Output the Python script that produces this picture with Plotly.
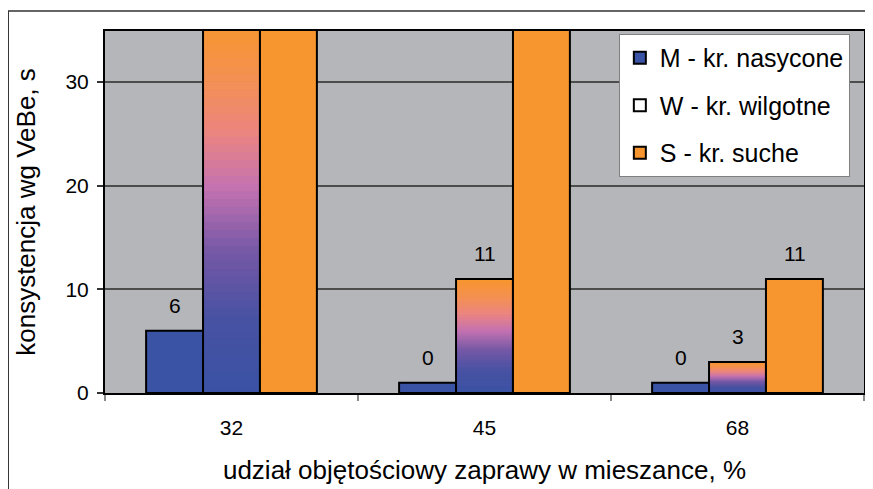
import plotly.graph_objects as go
from plotly.colors import sample_colorscale

# data
categories = ["32", "45", "68"]
m_values = [6, 1, 1]
m_labels = ["6", "0", "0"]
w_values = [36, 11, 3]
w_labels = [None, "11", "3"]
s_values = [40, 40, 11]
s_labels = [None, None, "11"]

FONT = "Liberation Sans, Arial, sans-serif"
BLUE = "#3A53A4"
ORANGE = "#F7952F"
PLOT_BG = "#B5B6BA"
W_SCALE = [
    [0.0, "#3A52A4"],
    [0.2, "#4852A3"],
    [0.38, "#7558A6"],
    [0.55, "#C472B1"],
    [0.7, "#EC857F"],
    [0.85, "#F4914F"],
    [1.0, "#F7962E"],
]
N_BANDS = 48
BAR_PX = 57  # width of one bar in pixels, used to offset the value labels

fig = go.Figure()

fig.add_trace(go.Bar(
    x=categories,
    y=m_values,
    name="M - kr. nasycone",
    offsetgroup="M",
    legendgroup="M",
    marker=dict(color=BLUE, line=dict(color="black", width=2)),
))

# gradient fill of the W bars: thin bands stacked inside each bar
band_colors = sample_colorscale(W_SCALE, [(i + 0.5) / N_BANDS for i in range(N_BANDS)])
for i, c in enumerate(band_colors):
    fig.add_trace(go.Bar(
        x=categories,
        y=[v / N_BANDS for v in w_values],
        base=[v * i / N_BANDS for v in w_values],
        offsetgroup="W",
        legendgroup="W",
        showlegend=False,
        hoverinfo="skip",
        marker=dict(color=c, line=dict(color=c, width=1)),
    ))

fig.add_trace(go.Bar(
    x=categories,
    y=w_values,
    name="W - kr. wilgotne",
    offsetgroup="W",
    legendgroup="W",
    marker=dict(color="rgba(0,0,0,0)", line=dict(color="black", width=2)),
))

fig.add_trace(go.Bar(
    x=categories,
    y=s_values,
    name="S - kr. suche",
    offsetgroup="S",
    legendgroup="S",
    marker=dict(color=ORANGE, line=dict(color="black", width=2)),
))

# value labels above the bars (category axis -> position by category index)
for values, labels, shift in [(m_values, m_labels, -BAR_PX),
                              (w_values, w_labels, 0),
                              (s_values, s_labels, BAR_PX)]:
    for idx, (v, lab) in enumerate(zip(values, labels)):
        if lab is None:
            continue
        fig.add_annotation(
            x=idx, y=v, text=lab, showarrow=False,
            xshift=shift, yshift=25, yanchor="middle",
            font=dict(size=21, color="black", family=FONT),
        )

# outer chart frame
fig.add_shape(
    type="rect", xref="paper", yref="paper",
    x0=-0.1275, x1=1.2, y0=-0.6, y1=1.0552,
    line=dict(color="#333333", width=1.5),
    fillcolor="rgba(0,0,0,0)",
)

# the page body adds an 8px margin, so the figure is 8px smaller each way
fig.update_layout(
    width=865,
    height=481,
    barmode="group",
    bargap=0.325,
    bargroupgap=0,
    paper_bgcolor="white",
    plot_bgcolor=PLOT_BG,
    margin=dict(l=97, r=7, t=23, b=96),
    font=dict(family=FONT, color="black"),
    xaxis=dict(
        type="category",
        range=[-0.5, 2.5],
        showline=True,
        linecolor="black",
        linewidth=2,
        mirror=True,
        ticks="outside",
        tickson="boundaries",
        ticklen=6,
        tickcolor="#8a8a8a",
        tickwidth=1.5,
        tickfont=dict(size=21),
        ticklabelstandoff=15,
        showgrid=False,
        title=dict(text="udział objętościowy zaprawy w mieszance, %",
                   font=dict(size=26), standoff=23),
    ),
    yaxis=dict(
        range=[0, 34.9],
        dtick=10,
        showgrid=True,
        gridcolor="#4D4D4D",
        gridwidth=1.5,
        zeroline=False,
        showline=True,
        linecolor="black",
        linewidth=2,
        mirror=True,
        ticks="outside",
        ticklen=6,
        tickcolor="#333333",
        tickwidth=1.5,
        tickfont=dict(size=21),
        ticklabelstandoff=4,
        title=dict(text="konsystencja wg VeBe, s",
                   font=dict(size=26), standoff=22),
    ),
    legend=dict(
        x=0.677,
        y=0.992,
        xanchor="left",
        yanchor="top",
        bgcolor="white",
        bordercolor="#808080",
        borderwidth=1,
        font=dict(size=25),
        traceorder="grouped",
        tracegroupgap=12,
    ),
    showlegend=True,
)

fig.write_html("out.html")
